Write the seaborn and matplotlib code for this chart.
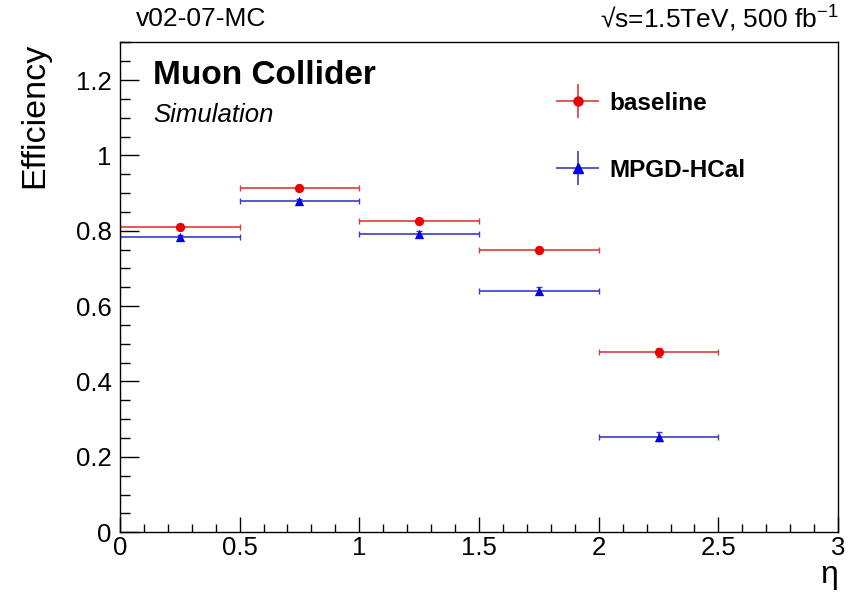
import matplotlib
matplotlib.use('Agg')
import matplotlib.pyplot as plt
import seaborn as sns
import pandas as pd
from matplotlib.ticker import MultipleLocator
from matplotlib.legend_handler import HandlerErrorbar

# eta bins (centres) and half widths
eta = [0.25, 0.75, 1.25, 1.75, 2.25]
eta_halfwidth = [0.25, 0.25, 0.25, 0.25, 0.25]

# efficiencies
eff_baseline = [0.811, 0.914, 0.826, 0.750, 0.477]
err_baseline = [0.006, 0.006, 0.006, 0.008, 0.013]
eff_mpgd = [0.784, 0.879, 0.792, 0.641, 0.254]
err_mpgd = [0.005, 0.005, 0.006, 0.010, 0.012]

labels = ["baseline", "MPGD-HCal"]
colors = ["#ee0000", "#0000ee"]
line_colors = ["#dd3c3c", "#3c3cc8"]
markers = ["o", "^"]

sns.set_theme(style="ticks")
plt.rcParams['font.family'] = ['Liberation Sans', 'DejaVu Sans']
plt.rcParams['mathtext.default'] = 'regular'
for k in ['text.color', 'axes.labelcolor', 'xtick.color', 'ytick.color', 'axes.edgecolor']:
    plt.rcParams[k] = 'black'

df = pd.concat([
    pd.DataFrame({"eta": eta, "eff": eff_baseline, "err": err_baseline, "sample": labels[0]}),
    pd.DataFrame({"eta": eta, "eff": eff_mpgd, "err": err_mpgd, "sample": labels[1]}),
])

fig = plt.figure(figsize=(8.5, 5.96), dpi=100)
ax = fig.add_axes([0.141, 0.107, 0.845, 0.822])

for lab, c, lc, m in zip(labels, colors, line_colors, markers):
    d = df[df["sample"] == lab]
    ax.errorbar(d["eta"], d["eff"], xerr=eta_halfwidth, yerr=d["err"], fmt="none",
                ecolor=lc, elinewidth=1.2, capsize=2.5, capthick=1.0)
    sns.scatterplot(data=d, x="eta", y="eff", marker=m, color=c, s=45,
                    edgecolor=c, linewidth=0, ax=ax, legend=False, zorder=3)

# legend entries: marker with crossing error lines
leg_handles = []
for lab, c, lc, m in zip(labels, colors, line_colors, markers):
    leg_handles.append(ax.errorbar([], [], xerr=[], yerr=[], fmt=m, color=c, ecolor=lc,
                                   markersize=6.5, elinewidth=1.2, label=lab))
ax.legend(leg_handles, labels, loc="upper left", bbox_to_anchor=(0.606, 0.899),
          frameon=False, borderpad=0, borderaxespad=0, handlelength=1.85,
          handletextpad=0.4, labelspacing=1.8,
          handler_map={type(leg_handles[0]): HandlerErrorbar(xerr_size=0.9, yerr_size=0.7)},
          prop={"family": "Liberation Sans", "weight": "bold", "size": 17.5})

ax.set_xlim(0, 3)
ax.set_ylim(0, 1.3)
ax.xaxis.set_minor_locator(MultipleLocator(0.1))
ax.yaxis.set_minor_locator(MultipleLocator(0.05))
ax.set_yticks([0, 0.2, 0.4, 0.6, 0.8, 1.0, 1.2])
ax.set_yticklabels(["0", "0.2", "0.4", "0.6", "0.8", "1", "1.2"])
ax.set_xticks([0, 0.5, 1, 1.5, 2, 2.5, 3])
ax.set_xticklabels(["0", "0.5", "1", "1.5", "2", "2.5", "3"])

ax.tick_params(axis="both", which="both", direction="in", top=False, right=False,
               labelsize=18.5)
ax.tick_params(axis="y", which="major", length=14, width=1.0, pad=6)
ax.tick_params(axis="y", which="minor", length=7, width=1.0)
ax.tick_params(axis="x", which="major", length=11, width=1.0, pad=3)
ax.tick_params(axis="x", which="minor", length=6, width=1.0)
for s in ax.spines.values():
    s.set_linewidth(1.0)

ax.set_xlabel("η", loc="right", fontsize=23, labelpad=0)
ax.set_ylabel("Efficiency", loc="top", fontsize=24.5, labelpad=18)

ax.text(0.046, 0.933, "Muon Collider", transform=ax.transAxes, fontsize=24,
        fontweight="bold", va="center", ha="left")
ax.text(0.046, 0.851, "Simulation", transform=ax.transAxes, fontsize=18.5,
        fontstyle="italic", va="center", ha="left")

fig.text(136 / 850, 1 - 19 / 596, "v02-07-MC", fontsize=19, va="center", ha="left")
fig.text(838 / 850, 1 - 19 / 596, "√s=1.5TeV, 500 fb$^{-1}$", fontsize=19,
         va="center", ha="right")

fig.savefig("out.png", dpi=100)
